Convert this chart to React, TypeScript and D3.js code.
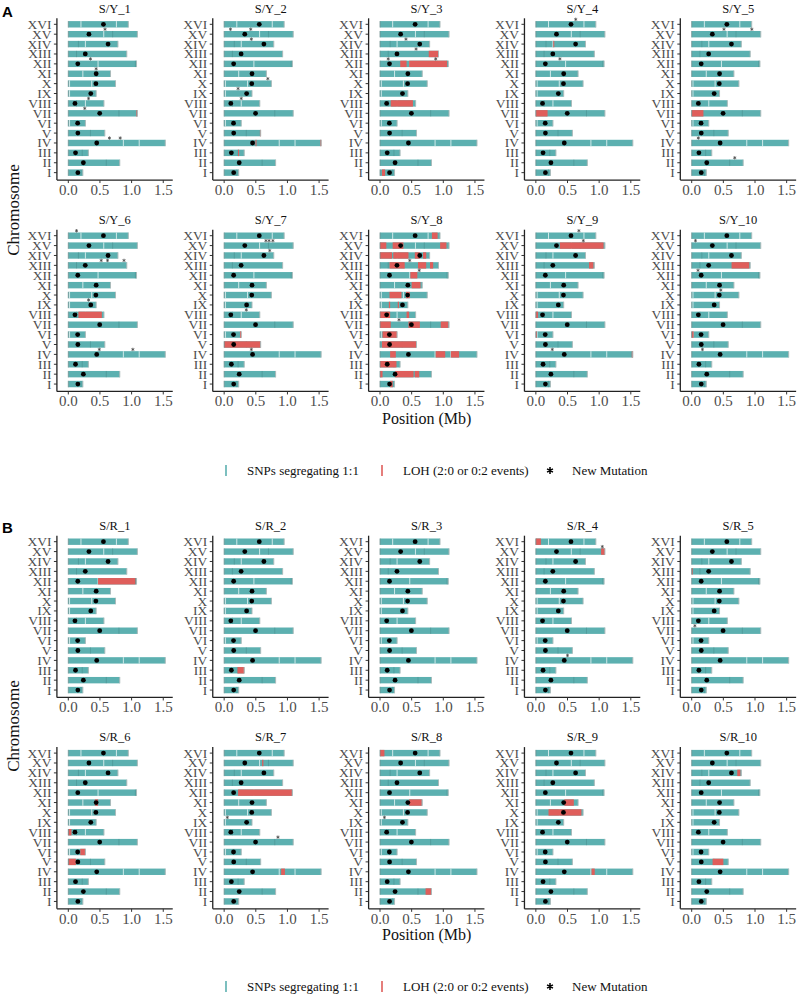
import React from "react";
import * as d3 from "d3";

const chromosomes = ["I","II","III","IV","V","VI","VII","VIII","IX","X","XI","XII","XIII","XIV","XV","XVI"];
const chromLengthMb = [0.230,0.813,0.317,1.532,0.577,0.270,1.091,0.563,0.440,0.746,0.667,1.078,0.924,0.784,1.091,0.948];
const centromereMb = [0.151,0.238,0.114,0.449,0.151,0.148,0.496,0.105,0.355,0.436,0.440,0.150,0.268,0.628,0.326,0.555];

const panelsA = ["S/Y_1","S/Y_2","S/Y_3","S/Y_4","S/Y_5","S/Y_6","S/Y_7","S/Y_8","S/Y_9","S/Y_10"];
const panelsB = ["S/R_1","S/R_2","S/R_3","S/R_4","S/R_5","S/R_6","S/R_7","S/R_8","S/R_9","S/R_10"];
const xTicks = [0, 0.5, 1.0, 1.5];

// [panel, chromosome, start Mb, end Mb]
const lohSegments: [string, string, number, number][] = [
  ["S/Y_1","VII",1.075,1.091],
  ["S/Y_2","IV",0.495,0.51],["S/Y_2","III",0.22,0.232],["S/Y_2","V",0.565,0.577],["S/Y_2","IV",1.52,1.532],
  ["S/Y_3","XIII",0.77,0.924],["S/Y_3","XII",0.32,0.42],["S/Y_3","XII",0.46,1.06],["S/Y_3","VIII",0.17,0.52],["S/Y_3","I",0.03,0.08],
  ["S/Y_4","VII",0,0.185],["S/Y_4","XIV",0.275,0.29],
  ["S/Y_5","VII",0,0.185],
  ["S/Y_6","VIII",0.16,0.53],
  ["S/Y_7","V",0,0.577],["S/Y_7","VI",0.25,0.27],
  ["S/Y_8","XVI",0.82,0.91],
  ["S/Y_8","XV",0,0.1],["S/Y_8","XV",0.2,0.37],["S/Y_8","XV",0.95,1.05],
  ["S/Y_8","XIV",0,0.19],["S/Y_8","XIV",0.21,0.45],["S/Y_8","XIV",0.55,0.63],["S/Y_8","XIV",0.68,0.73],
  ["S/Y_8","XIII",0.15,0.39],["S/Y_8","XIII",0.6,0.73],["S/Y_8","XIII",0.79,0.84],
  ["S/Y_8","XII",0.48,0.59],
  ["S/Y_8","XI",0.5,0.64],
  ["S/Y_8","X",0.15,0.34],["S/Y_8","X",0.41,0.47],
  ["S/Y_8","IX",0.14,0.16],["S/Y_8","IX",0.28,0.3],
  ["S/Y_8","VIII",0,0.16],["S/Y_8","VIII",0.42,0.46],
  ["S/Y_8","VII",0,0.17],["S/Y_8","VII",0.45,0.63],["S/Y_8","VII",0.96,1.08],
  ["S/Y_8","VI",0.04,0.27],
  ["S/Y_8","V",0.03,0.57],
  ["S/Y_8","IV",0.16,0.25],["S/Y_8","IV",0.88,1.03],["S/Y_8","IV",1.12,1.25],
  ["S/Y_8","III",0,0.26],
  ["S/Y_8","II",0,0.04],["S/Y_8","II",0.24,0.53],["S/Y_8","II",0.55,0.62],
  ["S/Y_8","I",0.16,0.2],
  ["S/Y_9","XV",0.38,1.07],["S/Y_9","XIII",0.84,0.91],["S/Y_9","VIII",0,0.035],["S/Y_9","VI",0,0.015],["S/Y_9","IV",1.515,1.532],
  ["S/Y_10","XIII",0.63,0.91],["S/Y_10","VI",0,0.03],
  ["S/R_1","XII",0.47,1.06],
  ["S/R_2","III",0.21,0.317],
  ["S/R_4","XVI",0,0.08],["S/R_4","XV",1.03,1.091],
  ["S/R_5","XIII",0,0.015],
  ["S/R_6","XI",0.42,0.47],["S/R_6","VIII",0,0.05],["S/R_6","VI",0.19,0.27],["S/R_6","V",0,0.12],
  ["S/R_7","XII",0.22,1.07],["S/R_7","XV",0.6,0.62],["S/R_7","IV",0.9,0.96],
  ["S/R_8","XVI",0,0.07],["S/R_8","XI",0.46,0.66],["S/R_8","II",0.72,0.81],
  ["S/R_9","XI",0.45,0.6],["S/R_9","X",0.2,0.72],["S/R_9","IV",0.88,0.93],
  ["S/R_10","XIV",0.72,0.77],["S/R_10","V",0.33,0.5],
];

// [panel, chromosome, position Mb]
const mutations: [string, string, number][] = [
  ["S/Y_1","XV",0.58],["S/Y_1","XII",0.35],["S/Y_1","XI",0.44],["S/Y_1","VIII",0.32],["S/Y_1","VII",0.26],["S/Y_1","IV",0.65],["S/Y_1","IV",0.82],
  ["S/Y_2","XV",0.1],["S/Y_2","XV",0.42],["S/Y_2","XIV",0.43],["S/Y_2","X",0.69],["S/Y_2","IX",0.22],["S/Y_2","VIII",0.27],
  ["S/Y_3","XIV",0.41],["S/Y_3","XIII",0.57],["S/Y_3","XII",0.13],["S/Y_3","XII",0.88],
  ["S/Y_4","XVI",0.63],["S/Y_4","XII",0.38],
  ["S/Y_5","XV",0.51],["S/Y_5","XV",0.95],["S/Y_5","IV",0.105],["S/Y_5","II",0.68],
  ["S/Y_6","XVI",0.13],["S/Y_6","XIII",0.52],["S/Y_6","XIII",0.62],["S/Y_6","XIII",0.88],["S/Y_6","IX",0.32],["S/Y_6","IV",0.49],["S/Y_6","IV",1.02],
  ["S/Y_7","XV",0.66],["S/Y_7","XV",0.71],["S/Y_7","XV",0.77],["S/Y_7","XIV",0.72],["S/Y_7","VIII",0.35],["S/Y_7","IV",0.43],
  ["S/Y_8","XIII",0.47],["S/Y_8","XII",0.62],["S/Y_8","VII",0.3],
  ["S/Y_9","XVI",0.68],["S/Y_9","XV",0.75],["S/Y_9","IV",0.26],
  ["S/Y_10","XV",0.06],["S/Y_10","XII",0.1],["S/Y_10","X",0.46],["S/Y_10","IV",0.17],
  ["S/R_4","XV",1.05],["S/R_4","IV",0.5],
  ["S/R_5","VII",0.05],
  ["S/R_7","VII",0.85],["S/R_7","IX",0.05],
  ["S/R_8","IX",0.07],
];

// regions without segregating SNPs (light) and low-coverage marks (dark), shared by all strains
const snpGaps: [string, number][] = [
  ["XVI",0.2],["XVI",0.76],["XV",0.56],["XIV",0.27],["XII",0.47],["XI",0.23],
  ["X",0.02],["X",0.37],["VIII",0.27],["VI",0.02],["IV",0.87],["IV",1.12],["IX",0.02],
];
const darkMarks: [string, number][] = [
  ["VIII",0.13],["V",0.35],["III",0.22],["II",0.6],["VII",0.8],["XII",1.06],["XIII",0.13],["XIV",0.16],["I",0.2],["XV",0.7],
];

const TEAL = "#5cb0b0";
const RED = "#df5e5b";
const SERIF = "'Liberation Serif', 'Times New Roman', serif";
const COL_X0 = 68.3;
const COL_STEP = 155.85;
const PX_PER_MB = 63.3;
const ROW_TOP = [24.3, 235.7, 541.7, 753.1];
const ROW_STEP = 9.89;

function asteriskPath(cx: number, cy: number, r: number, arms: number) {
  const p = d3.path();
  for (let k = 0; k < arms; k++) {
    const a = Math.PI / 2 + (k * Math.PI) / arms;
    p.moveTo(cx - r * Math.cos(a), cy - r * Math.sin(a));
    p.lineTo(cx + r * Math.cos(a), cy + r * Math.sin(a));
  }
  return p.toString();
}

function Panel({ name, row, col }: { name: string; row: number; col: number }) {
  const x0 = COL_X0 + col * COL_STEP;
  const x = d3.scaleLinear().domain([0, 1.5]).range([x0, x0 + 1.5 * PX_PER_MB]);
  const yTop = ROW_TOP[row];
  const yBottom = yTop + 15 * ROW_STEP;
  const y = d3.scalePoint<string>().domain(chromosomes).range([yBottom, yTop]);
  const left = x(-0.18);
  const right = x(1.65);
  const axisY = yBottom + 7.4;
  const top = yTop - 6;
  const barH = 6.4;
  const segs = lohSegments.filter((s) => s[0] === name);
  const muts = mutations.filter((m) => m[0] === name);
  return (
    <g>
      <text x={(left + right) / 2} y={yTop - 11.8} textAnchor="middle" fontFamily={SERIF} fontSize={12.5} fill="#111">{name}</text>
      {chromosomes.map((c, i) => {
        const yc = y(c)!;
        const len = chromLengthMb[i];
        return (
          <g key={c}>
            <rect x={x(0)} y={yc - barH / 2} width={x(len) - x(0)} height={barH} fill={TEAL} />
            {snpGaps.filter((g) => g[0] === c).map((g, j) => (
              <line key={"g" + j} x1={x(g[1])} x2={x(g[1])} y1={yc - barH / 2} y2={yc + barH / 2} stroke="#e4f3f3" strokeOpacity={0.85} strokeWidth={1} />
            ))}
            {darkMarks.filter((g) => g[0] === c).map((g, j) => (
              <line key={"d" + j} x1={x(g[1])} x2={x(g[1])} y1={yc - barH / 2} y2={yc + barH / 2} stroke="#3f7c7c" strokeOpacity={0.4} strokeWidth={0.9} />
            ))}
            {segs.filter((s) => s[1] === c).map((s, j) => (
              <rect key={"r" + j} x={x(s[2])} y={yc - barH / 2} width={Math.max(1, x(s[3]) - x(s[2]))} height={barH} fill={RED} />
            ))}
            <line x1={x(0)} x2={x(0)} y1={yc - barH / 2} y2={yc + barH / 2} stroke="#6f8f8f" strokeWidth={0.8} />
            <line x1={x(len)} x2={x(len)} y1={yc - barH / 2} y2={yc + barH / 2} stroke="#a9b9b9" strokeWidth={1} />
            <circle cx={x(centromereMb[i])} cy={yc} r={2.4} fill="#000" />
            <line x1={left - 3} x2={left} y1={yc} y2={yc} stroke="#333" strokeWidth={1} />
            <text x={left - 5.5} y={yc + 4.5} textAnchor="end" fontFamily={SERIF} fontSize={13.5} fill="#4d4d4d">{c}</text>
          </g>
        );
      })}
      {muts.map((m, j) => (
        <path key={"m" + j} d={asteriskPath(x(m[2]), y(m[1])! - ROW_STEP / 2, 1.7, 3)} stroke="#444" strokeWidth={0.75} fill="none" />
      ))}
      <line x1={left} x2={left} y1={top} y2={axisY} stroke="#222" strokeWidth={1.3} />
      <line x1={left} x2={right} y1={axisY} y2={axisY} stroke="#222" strokeWidth={1.3} />
      {xTicks.map((t) => (
        <g key={t}>
          <line x1={x(t)} x2={x(t)} y1={axisY} y2={axisY + 3} stroke="#333" strokeWidth={1} />
          <text x={x(t)} y={axisY + 15} textAnchor="middle" fontFamily={SERIF} fontSize={15} fill="#4d4d4d">{d3.format(".1f")(t)}</text>
        </g>
      ))}
    </g>
  );
}

function Legend({ cy }: { cy: number }) {
  return (
    <g fontFamily={SERIF} fontSize={13} fill="#111">
      <line x1={226} x2={226} y1={cy - 5.5} y2={cy + 5.5} stroke={TEAL} strokeWidth={1.6} />
      <text x={247} y={cy + 4.5}>SNPs segregating 1:1</text>
      <line x1={382} x2={382} y1={cy - 5.5} y2={cy + 5.5} stroke={RED} strokeWidth={1.6} />
      <text x={403} y={cy + 4.5}>LOH (2:0 or 0:2 events)</text>
      <path d={asteriskPath(550, cy, 3.4, 3)} stroke="#000" strokeWidth={1.5} fill="none" />
      <text x={572} y={cy + 4.5}>New Mutation</text>
    </g>
  );
}

function Block({ panels, rowOffset, label, offsetY }: { panels: string[]; rowOffset: number; label: string; offsetY: number }) {
  return (
    <g>
      <text x={2} y={17 + offsetY} fontFamily="'Liberation Sans', Arial, sans-serif" fontWeight="bold" fontSize={15} fill="#000">{label}</text>
      <text transform={`translate(19,${210 + offsetY}) rotate(-90)`} textAnchor="middle" fontFamily={SERIF} fontSize={17} fill="#111">Chromosome</text>
      {panels.map((p, i) => (
        <Panel key={p} name={p} row={rowOffset + Math.floor(i / 5)} col={i % 5} />
      ))}
      <text x={426.7} y={423.5 + offsetY} textAnchor="middle" fontFamily={SERIF} fontSize={16} fill="#111">Position (Mb)</text>
      <Legend cy={470.5 + offsetY} />
    </g>
  );
}

export default function App() {
  return (
    <svg width={799} height={995} style={{ position: "absolute", left: 0, top: 0, background: "#fff" }}>
      <rect width={799} height={995} fill="#fff" />
      <Block panels={panelsA} rowOffset={0} label="A" offsetY={0} />
      <Block panels={panelsB} rowOffset={2} label="B" offsetY={516} />
    </svg>
  );
}
